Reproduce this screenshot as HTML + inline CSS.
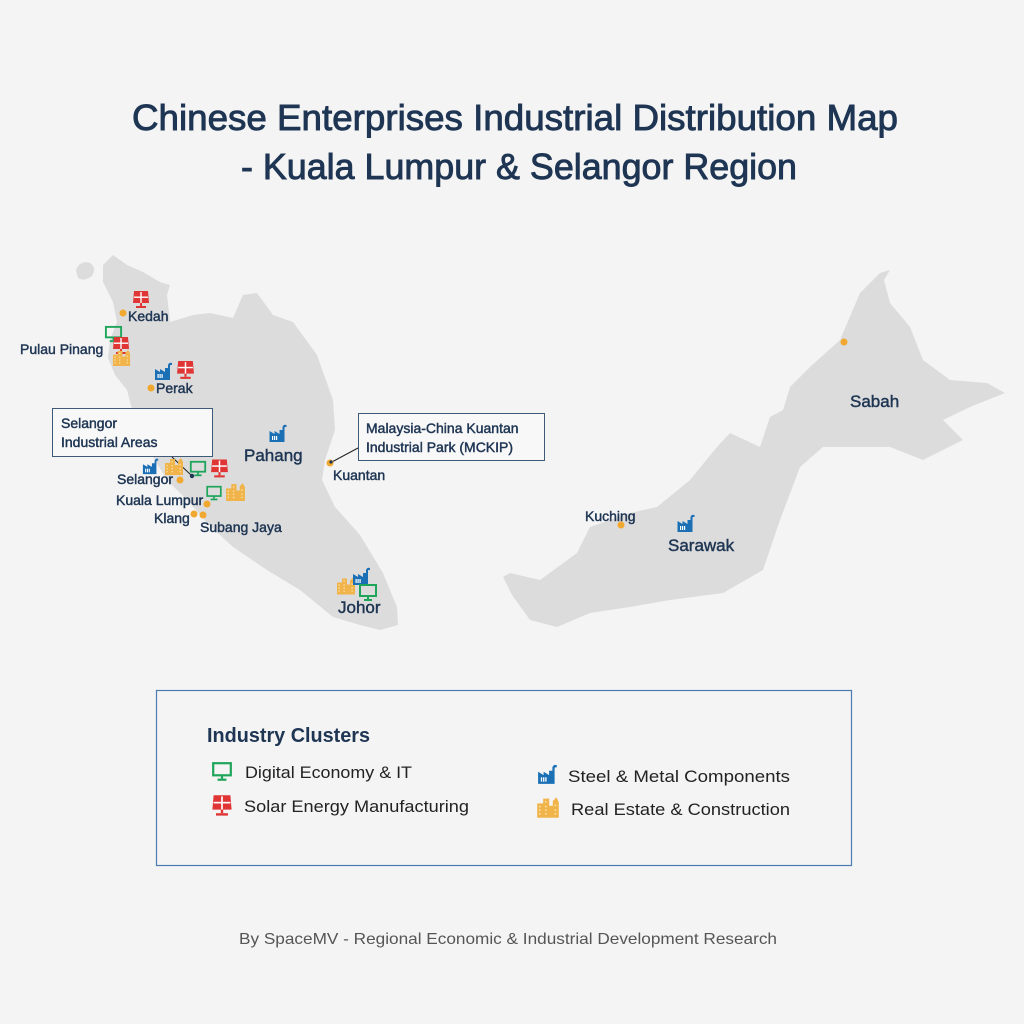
<!DOCTYPE html>
<html><head><meta charset="utf-8"><style>
html,body{margin:0;padding:0;background:#f4f4f4;}
svg{display:block;}
text{font-family:"Liberation Sans",sans-serif;fill:#1e3553;}
.t{stroke:#1e3553;stroke-width:0.9;}
.l{stroke:#1e3553;stroke-width:0.45;}
</style></head><body>
<svg width="1024" height="1024" viewBox="0 0 1024 1024" xmlns="http://www.w3.org/2000/svg">
<defs>
<symbol id="fac" viewBox="0 0 20 20">
<path d="M1 19 V8 L6 11 V8 L11 11 V7 L14 7 V4 Q15 1 18 2 L18 4 Q16 3.5 16 5 V19 Z" fill="#1a6fb5"/>
<rect x="3.5" y="13" width="1.2" height="4" fill="#fff"/><rect x="5.5" y="13" width="1.2" height="4" fill="#fff"/><rect x="7.5" y="13" width="1.2" height="4" fill="#fff"/>
</symbol>
<symbol id="sol" viewBox="0 0 20 20">
<path d="M3 1 H17 L18 13 H2 Z" fill="#e03535"/>
<rect x="9.3" y="2" width="1.4" height="11" fill="#fff"/><rect x="3" y="6.5" width="14" height="1.4" fill="#fff"/>
<rect x="9" y="13" width="2" height="3" fill="#e03535"/><rect x="5" y="16" width="10" height="2" fill="#e03535"/>
</symbol>
<symbol id="mon" viewBox="0 0 20 20">
<rect x="2" y="2" width="16" height="11" fill="none" stroke="#1ea55a" stroke-width="2"/>
<rect x="9" y="13" width="2" height="3" fill="#1ea55a"/><rect x="6" y="16" width="8" height="2" fill="#1ea55a"/>
</symbol>
<symbol id="bld" viewBox="0 0 20 20">
<path d="M1 19 V7 H6 V3 H11 V9 H14 V5 L17 2 L19 6 V19 Z" fill="#f0b44a"/>
<g fill="#fbe2a8"><rect x="2.5" y="9" width="1.3" height="1.3"/><rect x="2.5" y="12" width="1.3" height="1.3"/><rect x="2.5" y="15" width="1.3" height="1.3"/><rect x="7.5" y="5" width="1.3" height="1.3"/><rect x="7.5" y="9" width="1.3" height="1.3"/><rect x="7.5" y="12" width="1.3" height="1.3"/><rect x="7.5" y="15" width="1.3" height="1.3"/><rect x="15.5" y="8" width="1.3" height="1.3"/><rect x="15.5" y="12" width="1.3" height="1.3"/><rect x="15.5" y="15" width="1.3" height="1.3"/></g>
</symbol>
</defs>
<rect width="1024" height="1024" fill="#f4f4f4"/>
<text class="t" x="515" y="130" font-size="36" text-anchor="middle" textLength="766" lengthAdjust="spacingAndGlyphs">Chinese Enterprises Industrial Distribution Map</text>
<text class="t" x="519" y="179" font-size="36" text-anchor="middle" textLength="556" lengthAdjust="spacingAndGlyphs">- Kuala Lumpur &amp; Selangor Region</text>

<path d="M76,270 Q80,260 90,263 Q97,268 92,276 Q84,282 78,278 Z" fill="#dcdcdc"/>
<polygon fill="#dcdcdc" points="103,265 113,255 127,265 143,272 160,282 170,285 167,295 170,322 193,315 210,313 233,318 243,295 257,293 273,315 293,322 317,355 333,400 335,430 325,460 322,480 335,507 360,535 383,573 397,607 398,625 380,630 360,625 333,617 300,590 267,570 233,547 207,523 187,500 167,480 147,447 133,413 127,390 115,375 108,358 110,340 117,322 113,302 103,282"/>
<polygon fill="#dcdcdc" points="503,577 512,595 530,620 557,627 590,613 630,607 670,600 723,593 763,570 780,520 800,467 823,447 890,447 923,460 963,440 943,420 970,407 1005,393 987,383 950,380 923,360 910,327 890,303 884,280 890,270 880,273 860,293 840,340 810,367 790,387 783,410 770,417 760,447 730,433 717,447 690,480 657,507 630,513 590,527 577,553 540,580 510,573"/>

<rect x="52.5" y="408.5" width="160" height="48" fill="#f8f8f8" stroke="#3d5a78" stroke-width="1"/>
<text class="l" x="61" y="428" font-size="14">Selangor</text>
<text class="l" x="61" y="447" font-size="14">Industrial Areas</text>
<line x1="172" y1="457" x2="192" y2="476" stroke="#222" stroke-width="1"/>
<rect x="358.5" y="413.5" width="186" height="47" fill="#f8f8f8" stroke="#3d5a78" stroke-width="1"/>
<text class="l" x="366" y="433" font-size="14">Malaysia-China Kuantan</text>
<text class="l" x="366" y="452" font-size="14">Industrial Park (MCKIP)</text>
<line x1="330" y1="463" x2="358" y2="448" stroke="#222" stroke-width="1"/>

<use href="#sol" x="131" y="290" width="20" height="20"/>
<use href="#mon" x="104" y="325" width="19" height="19"/>
<use href="#sol" x="111" y="336" width="20" height="20"/>
<use href="#bld" x="111" y="348" width="21" height="19"/>
<use href="#fac" x="154" y="361" width="20" height="20"/>
<use href="#sol" x="175" y="360" width="21" height="21"/>
<use href="#fac" x="268" y="423" width="21" height="20"/>
<use href="#fac" x="142" y="457" width="18" height="18"/>
<use href="#bld" x="164" y="456" width="20" height="20"/>
<use href="#mon" x="188" y="460" width="20" height="18"/>
<use href="#sol" x="209" y="458" width="21" height="22"/>
<use href="#mon" x="204" y="485" width="20" height="17"/>
<use href="#bld" x="225" y="481" width="21" height="21"/>
<use href="#bld" x="336" y="575" width="20" height="21"/>
<use href="#fac" x="352" y="566" width="20" height="20"/>
<use href="#mon" x="358" y="583" width="20" height="20"/>
<use href="#fac" x="676" y="513" width="21" height="20"/>

<g fill="#f0a830">
<circle cx="123" cy="313" r="3.5"/><circle cx="151" cy="388" r="3.5"/><circle cx="180" cy="480" r="3.5"/>
<circle cx="207" cy="504" r="3.5"/><circle cx="194" cy="514" r="3.5"/><circle cx="203" cy="515" r="3.5"/>
<circle cx="330" cy="463" r="3.5"/><circle cx="621" cy="525" r="3.5"/><circle cx="844" cy="342" r="3.5"/>
</g>
<circle cx="192" cy="476" r="2.2" fill="#1e3553"/>
<circle cx="331" cy="462" r="1.6" fill="#1e3553"/>

<g font-size="14" class="l">
<text class="l" x="128" y="321">Kedah</text>
<text class="l" x="20" y="354">Pulau Pinang</text>
<text class="l" x="156" y="393">Perak</text>
<text class="l" x="117" y="484">Selangor</text>
<text class="l" x="116" y="505">Kuala Lumpur</text>
<text class="l" x="154" y="523">Klang</text>
<text class="l" x="200" y="532">Subang Jaya</text>
<text class="l" x="333" y="480">Kuantan</text>
<text class="l" x="585" y="521">Kuching</text>
</g>
<g font-size="17">
<text class="l" x="244" y="461">Pahang</text>
<text class="l" x="338" y="613">Johor</text>
<text class="l" x="668" y="551">Sarawak</text>
<text class="l" x="850" y="407">Sabah</text>
</g>

<rect x="156.5" y="690.5" width="695" height="175" fill="#f4f4f4" stroke="#4a7ab0" stroke-width="1.2"/>
<text x="207" y="742" font-size="20" font-weight="bold" textLength="163" lengthAdjust="spacingAndGlyphs">Industry Clusters</text>
<use href="#mon" x="211" y="761" width="22" height="22"/>
<text x="245" y="778" font-size="17" style="fill:#222" textLength="167" lengthAdjust="spacingAndGlyphs">Digital Economy &amp; IT</text>
<use href="#sol" x="210" y="794" width="24" height="24"/>
<text x="244" y="812" font-size="17" style="fill:#222" textLength="225" lengthAdjust="spacingAndGlyphs">Solar Energy Manufacturing</text>
<use href="#fac" x="536" y="763" width="24" height="22"/>
<text x="568" y="782" font-size="17" style="fill:#222" textLength="222" lengthAdjust="spacingAndGlyphs">Steel &amp; Metal Components</text>
<use href="#bld" x="535" y="795" width="26" height="24"/>
<text x="571" y="815" font-size="17" style="fill:#222" textLength="219" lengthAdjust="spacingAndGlyphs">Real Estate &amp; Construction</text>

<text x="508" y="944" font-size="16" text-anchor="middle" style="fill:#555" textLength="538" lengthAdjust="spacingAndGlyphs">By SpaceMV - Regional Economic &amp; Industrial Development Research</text>
</svg>
</body></html>
